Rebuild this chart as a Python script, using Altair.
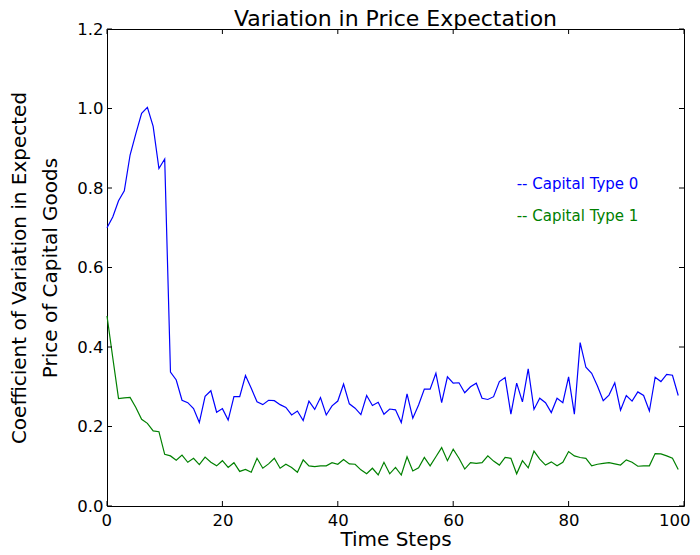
import altair as alt
import pandas as pd

steps = list(range(100))
cap0 = [0.700, 0.727, 0.768, 0.793, 0.883, 0.937, 0.988, 1.003, 0.955, 0.849,
        0.873, 0.337, 0.317, 0.266, 0.260, 0.245, 0.210, 0.276, 0.290, 0.236,
        0.245, 0.216, 0.275, 0.275, 0.328, 0.296, 0.262, 0.255, 0.266, 0.265,
        0.255, 0.248, 0.229, 0.239, 0.215, 0.264, 0.243, 0.273, 0.229, 0.252,
        0.264, 0.307, 0.257, 0.246, 0.230, 0.278, 0.253, 0.261, 0.231, 0.244,
        0.242, 0.210, 0.282, 0.221, 0.254, 0.294, 0.294, 0.334, 0.260, 0.325,
        0.309, 0.310, 0.285, 0.300, 0.309, 0.271, 0.268, 0.275, 0.313, 0.323,
        0.231, 0.309, 0.262, 0.345, 0.243, 0.271, 0.260, 0.235, 0.271, 0.260,
        0.325, 0.231, 0.411, 0.349, 0.334, 0.302, 0.265, 0.279, 0.310, 0.241,
        0.278, 0.264, 0.287, 0.278, 0.239, 0.324, 0.313, 0.331, 0.329, 0.278]
cap1 = [0.478, 0.373, 0.270, 0.272, 0.273, 0.248, 0.218, 0.208, 0.189, 0.187,
        0.130, 0.126, 0.115, 0.128, 0.110, 0.120, 0.104, 0.123, 0.110, 0.101,
        0.114, 0.097, 0.109, 0.087, 0.092, 0.085, 0.120, 0.095, 0.106, 0.120,
        0.095, 0.105, 0.097, 0.085, 0.116, 0.101, 0.099, 0.101, 0.101, 0.109,
        0.105, 0.117, 0.106, 0.105, 0.091, 0.081, 0.095, 0.078, 0.110, 0.081,
        0.097, 0.078, 0.124, 0.088, 0.096, 0.122, 0.101, 0.124, 0.147, 0.114,
        0.143, 0.120, 0.093, 0.109, 0.107, 0.109, 0.126, 0.113, 0.103, 0.122,
        0.120, 0.081, 0.114, 0.096, 0.138, 0.118, 0.103, 0.111, 0.101, 0.110,
        0.137, 0.126, 0.122, 0.120, 0.101, 0.105, 0.107, 0.109, 0.106, 0.103,
        0.116, 0.110, 0.100, 0.101, 0.101, 0.132, 0.131, 0.126, 0.120, 0.092]

series_names = ["Capital Type 0", "Capital Type 1"]
series_colors = ["#0000ff", "#008000"]
legend_text = ["-- Capital Type 0", "-- Capital Type 1"]
legend_step = [71, 71]
legend_value = [0.81, 0.73]

x_ticks = [0, 20, 40, 60, 80, 100]
y_ticks = [0.0, 0.2, 0.4, 0.6, 0.8, 1.0, 1.2]

W, H = 577, 477
FONT = "DejaVu Sans"

df = pd.concat([
    pd.DataFrame({"step": steps, "value": cap0, "series": series_names[0]}),
    pd.DataFrame({"step": steps, "value": cap1, "series": series_names[1]}),
])
leg = pd.DataFrame({"step": legend_step, "value": legend_value,
                    "series": series_names, "label": legend_text})
xt = pd.DataFrame({"step": x_ticks})
yt = pd.DataFrame({"value": y_ticks})

xscale = alt.Scale(domain=[0, 100], nice=False, zero=False)
yscale = alt.Scale(domain=[0, 1.2], nice=False)
cscale = alt.Scale(domain=series_names, range=series_colors)

xaxis = alt.Axis(values=x_ticks, title="Time Steps", ticks=False,
                 grid=False, domain=False, labelFontSize=16.5,
                 labelFont=FONT, labelColor="black",
                 labelPadding=6, titleFont=FONT, titleFontSize=20,
                 titleFontWeight="normal", titleColor="black",
                 titlePadding=1, labelFlush=True, labelFlushOffset=6)
yaxis = alt.Axis(values=y_ticks, format=".1f",
                 title=["Coefficient of Variation in Expected",
                        "Price of Capital Goods"],
                 ticks=False, grid=False, domain=False,
                 labelFontSize=16.5, labelFont=FONT,
                 labelColor="black", labelPadding=4,
                 titleFont=FONT, titleFontSize=20,
                 titleFontWeight="normal", titleColor="black",
                 titleLineHeight=31, titlePadding=16,
                 labelFlush=False)

X = alt.X("step:Q", scale=xscale, axis=xaxis)
Y = alt.Y("value:Q", scale=yscale, axis=yaxis)

lines = alt.Chart(df).mark_line(strokeWidth=1.2).encode(
    x=X, y=Y,
    color=alt.Color("series:N", scale=cscale, legend=None),
)

labels = alt.Chart(leg).mark_text(align="left", baseline="middle",
                                  fontSize=15, font=FONT).encode(
    x=X, y=Y,
    text="label:N",
    color=alt.Color("series:N", scale=cscale, legend=None),
)

xb = alt.Chart(xt).mark_rule(color="black", strokeWidth=1).encode(
    x=X, y=alt.value(H), y2=alt.value(H - 5))
xtop = alt.Chart(xt).mark_rule(color="black", strokeWidth=1).encode(
    x=X, y=alt.value(0), y2=alt.value(5))
yl = alt.Chart(yt).mark_rule(color="black", strokeWidth=1).encode(
    y=Y, x=alt.value(0), x2=alt.value(5))
yr = alt.Chart(yt).mark_rule(color="black", strokeWidth=1).encode(
    y=Y, x=alt.value(W - 5), x2=alt.value(W))

chart = alt.layer(lines, labels, xb, xtop, yl, yr).properties(
    width=W, height=H,
    background="white",
    title=alt.TitleParams("Variation in Price Expectation", fontSize=22,
                          font=FONT, fontWeight="normal", color="black",
                          anchor="middle", offset=0, dy=10),
    autosize=alt.AutoSizeParams(type="none"),
    padding={"left": 99, "top": 21, "right": 8, "bottom": 46},
).configure_view(stroke="black", strokeWidth=1)

chart.save("out.html", embed_options={"renderer": "svg", "actions": False})
